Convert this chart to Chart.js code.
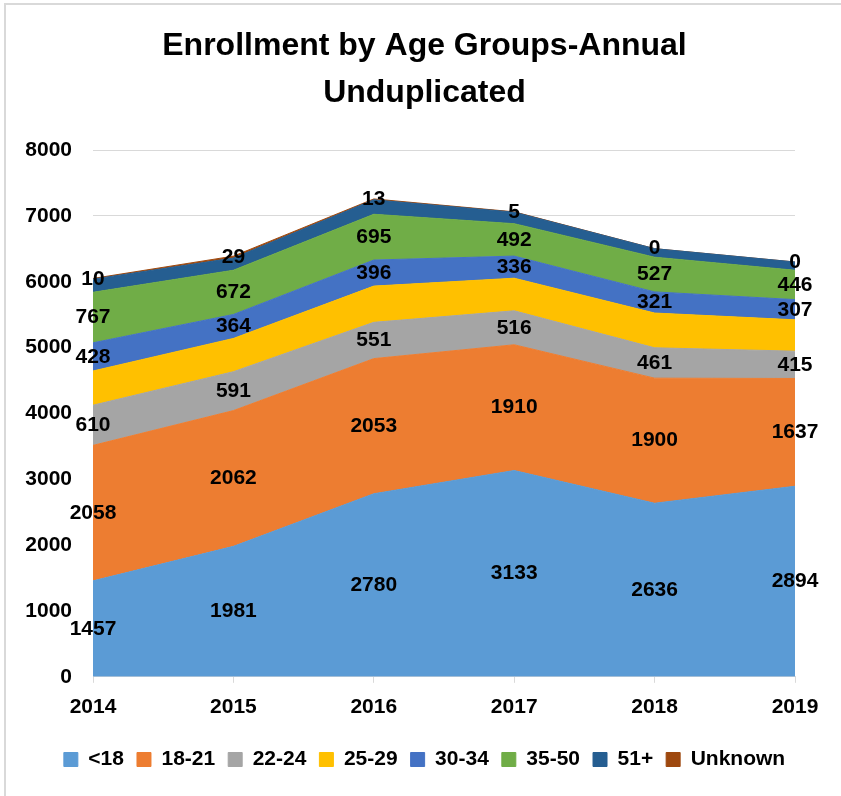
<!DOCTYPE html>
<html>
<head>
<meta charset="utf-8">
<title>Enrollment by Age Groups</title>
<script src="https://cdn.jsdelivr.net/npm/chart.js@4"></script>
<style>
  html, body { margin: 0; padding: 0; background: #fff; }
  #wrap { position: relative; width: 841px; height: 796px; }
</style>
</head>
<body>
<div id="wrap"><canvas id="enrollChart" width="841" height="796"></canvas></div>
<script>
// Chart data
const years = ["2014", "2015", "2016", "2017", "2018", "2019"];
const under18 = [1457, 1981, 2780, 3133, 2636, 2894];
const age18to21 = [2058, 2062, 2053, 1910, 1900, 1637];
const age22to24 = [610, 591, 551, 516, 461, 415];
const age25to29 = [520, 505, 550, 495, 528, 476];
const age30to34 = [428, 364, 396, 336, 321, 307];
const age35to50 = [767, 672, 695, 492, 527, 446];
const age51plus = [200, 185, 220, 175, 130, 125];
const unknownAge = [10, 29, 13, 5, 0, 0];
const yTicks = [0, 1000, 2000, 3000, 4000, 5000, 6000, 7000, 8000];

// series shown with value labels (by dataset index)
const labelledSeries = [0, 1, 2, 4, 5, 7];

const FONT = "'Liberation Sans', Arial, sans-serif";

function areaSet(label, data, color, idx) {
  return {
    label: label,
    data: data,
    backgroundColor: color,
    borderColor: color,
    borderWidth: 1,
    pointRadius: 0,
    pointHoverRadius: 0,
    tension: 0,
    fill: idx === 0 ? "origin" : "-1",
  };
}

// Draw value labels centred in each band
const bandLabels = {
  id: "bandLabels",
  afterDatasetsDraw(chart) {
    const ctx = chart.ctx;
    ctx.save();
    ctx.font = "bold 21px " + FONT;
    ctx.fillStyle = "#000";
    ctx.textAlign = "center";
    ctx.textBaseline = "middle";
    labelledSeries.forEach((di) => {
      const meta = chart.getDatasetMeta(di);
      const below = di > 0 ? chart.getDatasetMeta(di - 1) : null;
      meta.data.forEach((pt, i) => {
        const yBottom = below ? below.data[i].y : chart.scales.y.getPixelForValue(0);
        const y = (pt.y + yBottom) / 2;
        ctx.fillText(String(chart.data.datasets[di].data[i]), pt.x, y);
      });
    });
    ctx.restore();
  },
};

// White background and light frame like the office chart
const frame = {
  id: "frame",
  beforeDraw(chart) {
    const ctx = chart.ctx;
    ctx.save();
    ctx.fillStyle = "#fff";
    ctx.fillRect(0, 0, chart.width, chart.height);
    ctx.strokeStyle = "#d9d9d9";
    ctx.lineWidth = 2;
    ctx.strokeRect(5, 4, chart.width + 20, chart.height + 20);
    ctx.restore();
  },
};

const ctx = document.getElementById("enrollChart").getContext("2d");
new Chart(ctx, {
  type: "line",
  data: {
    labels: years,
    datasets: [
      areaSet("<18", under18, "#5B9BD5", 0),
      areaSet("18-21", age18to21, "#ED7D31", 1),
      areaSet("22-24", age22to24, "#A5A5A5", 2),
      areaSet("25-29", age25to29, "#FFC000", 3),
      areaSet("30-34", age30to34, "#4472C4", 4),
      areaSet("35-50", age35to50, "#70AD47", 5),
      areaSet("51+", age51plus, "#255E91", 6),
      areaSet("Unknown", unknownAge, "#9E480E", 7),
    ],
  },
  options: {
    responsive: false,
    animation: false,
    layout: { padding: { left: 8, right: 0, top: 0, bottom: 16 } },
    plugins: {
      title: {
        display: true,
        text: ["Enrollment by Age Groups-Annual", "Unduplicated"],
        color: "#000",
        font: { family: FONT, size: 32, weight: "bold", lineHeight: 1.47 },
        padding: { top: 23, bottom: 33 },
      },
      legend: {
        position: "bottom",
        labels: {
          color: "#000",
          boxWidth: 14,
          boxHeight: 14,
          padding: 13,
          font: { family: FONT, size: 21, weight: "bold" },
        },
      },
      tooltip: { enabled: false },
    },
    scales: {
      x: {
        afterFit(scale) {
          scale.height += 4;
          scale.paddingRight = 46;
        },
        grid: { display: true, drawOnChartArea: false, tickLength: 6, color: "#d9d9d9" },
        border: { color: "#d9d9d9" },
        ticks: { color: "#000", padding: 12, font: { family: FONT, size: 21, weight: "bold" } },
      },
      y: {
        stacked: true,
        min: 0,
        max: 8000,
        afterBuildTicks(scale) {
          scale.ticks = yTicks.map((v) => ({ value: v }));
        },
        afterFit(scale) {
          scale.width = 85;
        },
        grid: { color: "#d9d9d9", drawTicks: false },
        border: { display: false },
        ticks: {
          color: "#000",
          padding: 21,
          font: { family: FONT, size: 21, weight: "bold" },
          callback: (v) => String(v),
        },
      },
    },
  },
  plugins: [frame, bandLabels],
});
</script>
</body>
</html>
